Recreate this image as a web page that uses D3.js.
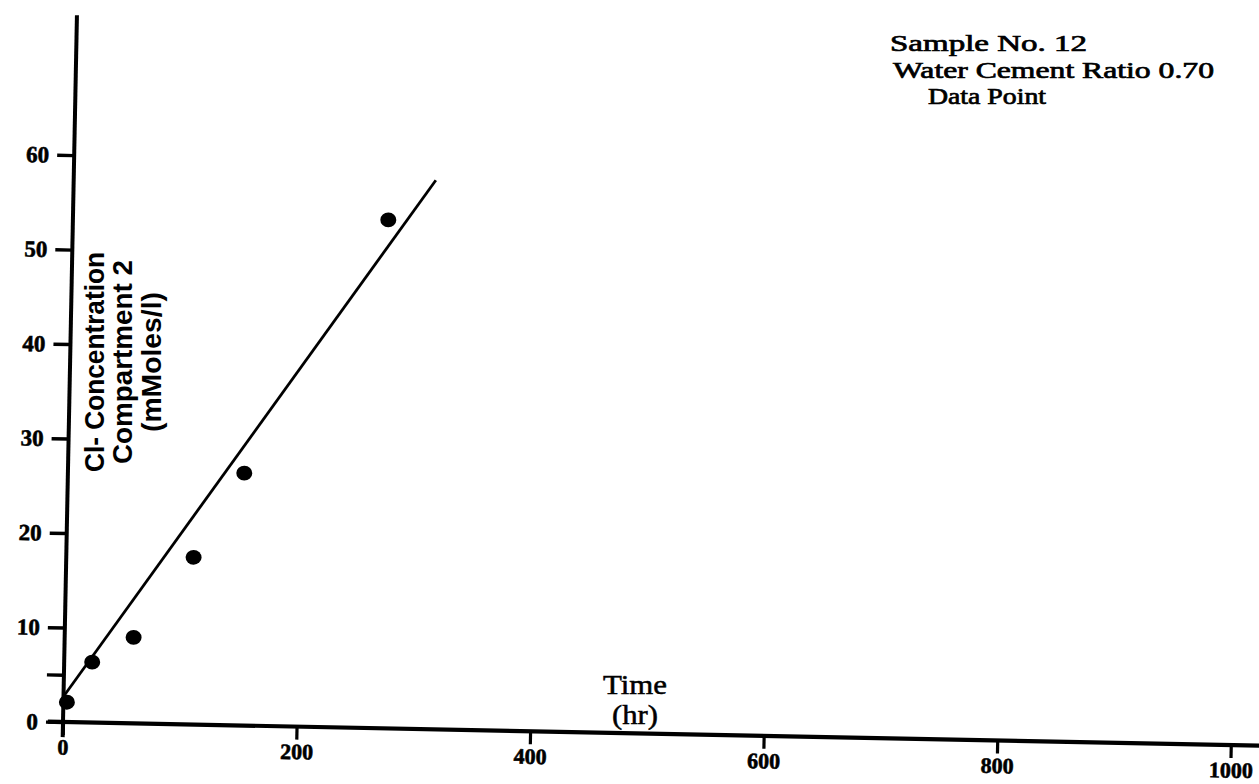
<!DOCTYPE html>
<html>
<head>
<meta charset="utf-8">
<script src="https://cdn.jsdelivr.net/npm/d3@7"></script>
<style>
  html, body { margin: 0; padding: 0; background: #fff; }
  svg { display: block; }
</style>
</head>
<body>
<svg id="chart" width="1259" height="784"></svg>
<script>
// Chloride concentration in compartment 2 against time, sample no. 12
const timeHr = [3, 24, 59, 109, 151, 270];
const chlorideMmol = [2.1, 6.4, 9.1, 17.7, 26.7, 53.8];

// Least-squares line through the measurements (end points)
const fitTime = [0, 310];
const fitChloride = [2.7, 58.1];

const xTickValues = [0, 200, 400, 600, 800, 1000];
const yTickValues = [0, 5, 10, 20, 30, 40, 50, 60];

const yLabelLines = ["Cl- Concentration", "Compartment 2", "(mMoles/l)"];
const xLabelLines = ["Time", "(hr)"];
const noteLines = ["Sample No. 12", "Water Cement Ratio 0.70", "Data Point"];

const svg = d3.select("#chart");

const origin = { x: 63, y: 722 };
const x = d3.scaleLinear().domain([0, 1000]).range([origin.x, origin.x + 1168]);
const y = d3.scaleLinear().domain([0, 60]).range([origin.y, origin.y - 567]);

// The whole plotting frame sits slightly skewed on the page
const plot = svg.append("g")
  .attr("transform", `rotate(1.13, ${origin.x}, ${origin.y})`);

const serif = "'Liberation Serif', 'Times New Roman', serif";
const sans = "'Liberation Sans', Arial, sans-serif";

// Axis lines
plot.append("line")
  .attr("x1", x(0)).attr("x2", x(0))
  .attr("y1", y(-1.6)).attr("y2", y(74.8))
  .attr("stroke", "#000").attr("stroke-width", 4);

plot.append("line")
  .attr("x1", x(-13)).attr("x2", x(1030))
  .attr("y1", y(0)).attr("y2", y(0))
  .attr("stroke", "#000").attr("stroke-width", 4.2);

// Y axis ticks and labels
const yAxis = d3.axisLeft(y)
  .tickValues(yTickValues)
  .tickSize(17)
  .tickPadding(8)
  .tickFormat(d => d % 10 === 0 ? d : "");

const gy = plot.append("g")
  .attr("transform", `translate(${x(0)},0)`)
  .call(yAxis);
gy.select(".domain").remove();
gy.selectAll(".tick line").attr("stroke", "#000").attr("stroke-width", 3.4);
gy.selectAll(".tick text")
  .attr("fill", "#000")
  .attr("stroke", "#000")
  .attr("stroke-width", 0.6)
  .style("font-family", serif)
  .style("font-weight", "bold")
  .style("font-size", "23px");

// X axis ticks and labels
const xAxis = d3.axisBottom(x)
  .tickValues(xTickValues)
  .tickSize(13)
  .tickPadding(4)
  .tickFormat(d3.format("d"));

const gx = plot.append("g")
  .attr("transform", `translate(0,${y(0)})`)
  .call(xAxis);
gx.select(".domain").remove();
gx.selectAll(".tick line").attr("stroke", "#000").attr("stroke-width", 3.2);
gx.selectAll(".tick text")
  .attr("fill", "#000")
  .attr("stroke", "#000")
  .attr("stroke-width", 0.6)
  .style("font-family", serif)
  .style("font-weight", "bold")
  .style("font-size", "22px");

// Fitted line
const fitData = fitTime.map((t, i) => ({ t, c: fitChloride[i] }));
plot.append("path")
  .datum(fitData)
  .attr("fill", "none")
  .attr("stroke", "#000")
  .attr("stroke-width", 2.8)
  .attr("d", d3.line().x(d => x(d.t)).y(d => y(d.c)));

// Measured points
const points = timeHr.map((t, i) => ({ t, c: chlorideMmol[i] }));
plot.append("g")
  .selectAll("ellipse")
  .data(points)
  .join("ellipse")
  .attr("cx", d => x(d.t))
  .attr("cy", d => y(d.c))
  .attr("rx", 8)
  .attr("ry", 7.4)
  .attr("fill", "#000");

// X axis title
const xTitle = svg.append("text")
  .attr("text-anchor", "middle")
  .attr("stroke", "#000")
  .attr("stroke-width", 0.5)
  .style("font-family", serif)
  .style("font-size", "27px")
  .attr("fill", "#000");
xTitle.selectAll("tspan")
  .data(xLabelLines)
  .join("tspan")
  .attr("x", 635)
  .attr("y", (d, i) => 694 + i * 30)
  .attr("textLength", (d, i) => [64, 46][i])
  .attr("lengthAdjust", "spacingAndGlyphs")
  .text(d => d);

// Y axis title, rotated
const yTitle = svg.append("g")
  .attr("transform", "translate(0,362) rotate(-90)");
yTitle.selectAll("text")
  .data(yLabelLines)
  .join("text")
  .attr("x", 0)
  .attr("y", (d, i) => [104, 132, 161][i])
  .attr("text-anchor", "middle")
  .attr("textLength", (d, i) => [220, 204, 140][i])
  .attr("lengthAdjust", "spacingAndGlyphs")
  .style("font-family", sans)
  .style("font-weight", "bold")
  .style("font-size", "27px")
  .attr("fill", "#000")
  .text(d => d);

// Sample note, top right
svg.append("g")
  .selectAll("text")
  .data(noteLines)
  .join("text")
  .attr("x", (d, i) => [890, 893, 928][i])
  .attr("y", (d, i) => [51, 77.5, 104][i])
  .attr("textLength", (d, i) => [197, 321, 118][i])
  .attr("lengthAdjust", "spacingAndGlyphs")
  .attr("stroke", "#000")
  .attr("stroke-width", 0.7)
  .style("font-family", serif)
  .style("font-size", "23px")
  .attr("fill", "#000")
  .text(d => d);
</script>
</body>
</html>
